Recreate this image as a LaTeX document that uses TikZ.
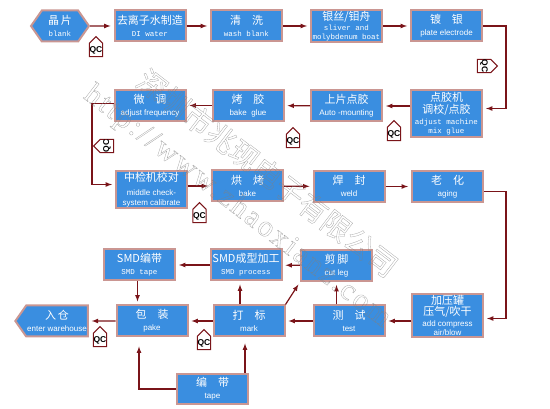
\documentclass[tikz,border=0pt]{standalone}
\usepackage{fontspec}
\setmainfont{Liberation Sans}
\setmonofont{Liberation Mono}
\newfontfamily\cjk{Noto Sans CJK SC}
\newfontfamily\wmfont[LetterSpace=8]{Liberation Serif}
\usetikzlibrary{arrows}
\usetikzlibrary{shapes}
\definecolor{boxblue}{RGB}{58,142,224}
\definecolor{boxedge}{RGB}{202,150,146}
\definecolor{linkred}{RGB}{122,20,25}
\newcommand{\zhtxt}[1]{{\cjk\fontsize{11}{13}\selectfont\rule[-2pt]{0pt}{11pt}\smash{#1}}}
\newcommand{\entxt}[1]{{\fontsize{8}{9}\selectfont #1}}
\newcommand{\mntxt}[1]{{\ttfamily\fontsize{7.5}{9}\selectfont #1}}
\newcommand{\hollow}[1]{\special{pdf:literal direct 1 Tr 0.3 w}#1\special{pdf:literal direct 0 Tr}}

\begin{document}
\begin{tikzpicture}[x=1pt, y=-1pt,
				   box/.style={rectangle, draw=boxedge, line width=2pt, fill=boxblue, text=white, align=center, minimum width=71pt, minimum height=31pt, inner sep=1pt},
				   tip/.style={box, signal, signal pointer angle=110},
				   qc/.style={signal, signal to=north, draw=linkred, fill=white, line width=1pt, text=black, font=\bfseries\fontsize{8.5}{8.5}\selectfont, minimum width=13pt, minimum height=20pt, inner sep=0.3pt},
				   link/.style={draw=linkred, line width=1.2pt, -latex, shorten >=3pt},
				   wmark/.style={text=black!50, opacity=0.7, inner sep=0pt}]
\useasboundingbox (0,0) rectangle (550,409);
\coordinate (rline) at (506,0);
\coordinate (lline) at (92,0);

\node[tip, signal to=west and east, minimum width=58pt] (blank) at (60,26) {\zhtxt{晶\,片}\\\mntxt{blank}};
\node[box] (water) at (150,26) {\zhtxt{去离子水制造}\\\mntxt{DI water}};
\node[box] (wash) at (246.5,26) {\zhtxt{清\quad 洗}\\\mntxt{wash blank}};
\node[box] (boat) at (346.5,26) {\zhtxt{银丝/钼舟}\\[-2pt]\mntxt{sliver and}\\[-3pt]\mntxt{molybdenum boat}};
\node[box] (plate) at (446.5,26) {\zhtxt{镀\quad 银}\\\entxt{plate electrode}};

\node[box, minimum height=47pt] (machine) at (446.5,113.5) {\zhtxt{点胶机}\\\zhtxt{调校/点胶}\\[-1pt]\mntxt{adjust machine}\\[-3pt]\mntxt{mix glue}};
\node[box] (mount) at (346.5,106) {\zhtxt{上片点胶}\\\entxt{Auto -mounting}};
\node[box] (glue) at (248,105.5) {\zhtxt{烤\quad 胶}\\\entxt{bake\ \ glue}};
\node[box] (freq) at (150,105.5) {\zhtxt{微\quad 调}\\\entxt{adjust frequency}};

\node[box, minimum height=37pt] (check) at (151.5,189.5) {\zhtxt{中检机校对}\\[2pt]\entxt{middle check-}\\[-2pt]\entxt{system calibrate}};
\node[box] (bake) at (247.5,186) {\zhtxt{烘\quad 烤}\\\entxt{bake}};
\node[box] (weld) at (349,186.5) {\zhtxt{焊\quad 封}\\\entxt{weld}};
\node[box] (aging) at (447.5,186.5) {\zhtxt{老\quad 化}\\\entxt{aging}};

\node[box] (smdtape) at (139.5,265) {\zhtxt{SMD编带}\\\mntxt{SMD tape}};
\node[box] (smdproc) at (246,265) {\zhtxt{SMD成型加工}\\\mntxt{SMD process}};
\node[box] (cut) at (336.5,265.5) {\zhtxt{剪\,脚}\\\entxt{cut leg}};

\node[tip, signal to=west, minimum width=68pt] (store) at (57,321) {\zhtxt{入\,仓}\\\entxt{enter warehouse}};
\node[box] (pake) at (152,321) {\zhtxt{包\quad 装}\\\entxt{pake}};
\node[box] (mark) at (249,321) {\zhtxt{打\quad 标}\\\entxt{mark}};
\node[box] (test) at (349,321) {\zhtxt{测\quad 试}\\\entxt{test}};
\node[box, minimum height=41pt] (press) at (447.5,315.5) {\zhtxt{加压罐}\\[-1pt]\zhtxt{压气/吹干}\\[-1pt]\entxt{add compress}\\[-3pt]\entxt{air/blow}};

\node[box, minimum height=30pt] (tape) at (212.5,389) {\zhtxt{编\quad 带}\\\entxt{tape}};

\node[qc] (qc1) at (96,50) {QC};
\node[qc, rotate=-90] (qc2) at (484,66) {QC};
\node[qc] (qc3) at (394,134) {QC};
\node[qc] (qc4) at (293,141) {QC};
\node[qc, rotate=90] (qc5) at (107,146) {QC};
\node[qc] (qc6) at (199.5,216) {QC};
\node[qc] (qc7) at (100,340) {QC};
\node[qc] (qc8) at (204,343) {QC};

\draw[link] (blank) -- (water);
\draw[link] (water) -- (wash);
\draw[link] (wash) -- (boat);
\draw[link] (boat) -- (plate);
\draw[link] (plate.east) -- (plate.east -| rline) |- ([yshift=5pt]machine.east);
\draw[link] (machine.west |- mount) -- (mount);
\draw[link] (mount) -- (glue);
\draw[link] (glue) -- (freq);
\draw[link] ([yshift=2pt]freq.west) -- ([yshift=2pt]freq.west -| lline) |- ([yshift=5pt]check.west);
\draw[link] (check.east |- bake) -- (bake);
\draw[link] (bake) -- (weld);
\draw[link] (weld) -- (aging);
\draw[link] ([yshift=-5pt]aging.east) -- ([yshift=-5pt]aging.east -| rline) |- ([yshift=-3pt]press.east);
\draw[link] (press.west |- test) -- (test);
\draw[link] (test) -- (mark);
\draw[link] (test.north -| cut) -- (cut.south);
\draw[link] (mark.north east) -- (cut.south west);
\draw[link] (cut) -- (smdproc);
\draw[link] ([xshift=-9pt]mark.north) -- ([xshift=-9pt]mark.north |- smdproc.south);
\draw[link] (smdproc) -- (smdtape);
\draw[link] ([xshift=-2pt]smdtape.south) -- ([xshift=-2pt]smdtape.south |- pake.north);
\draw[link] (mark) -- (pake);
\draw[link] (pake) -- (store);
\draw[link, shorten >=9pt] (tape.west) -| ([xshift=-13pt]pake.south);
\draw[link, shorten >=6pt] ([xshift=-4pt]tape.north east) -- ([xshift=-4pt]tape.north east |- mark.south);

\node[wmark, rotate=-37.5] (wmcn) at (267.5,173) {\cjk\fontsize{29}{29}\selectfont\hollow{深圳市兆现电子有限公司}};
\node[wmark, rotate=-37.5] (wmurl) at (237,207) {\wmfont\fontsize{30}{30}\selectfont\hollow{http://www.zhaoxianz.com}};
\end{tikzpicture}
\end{document}
